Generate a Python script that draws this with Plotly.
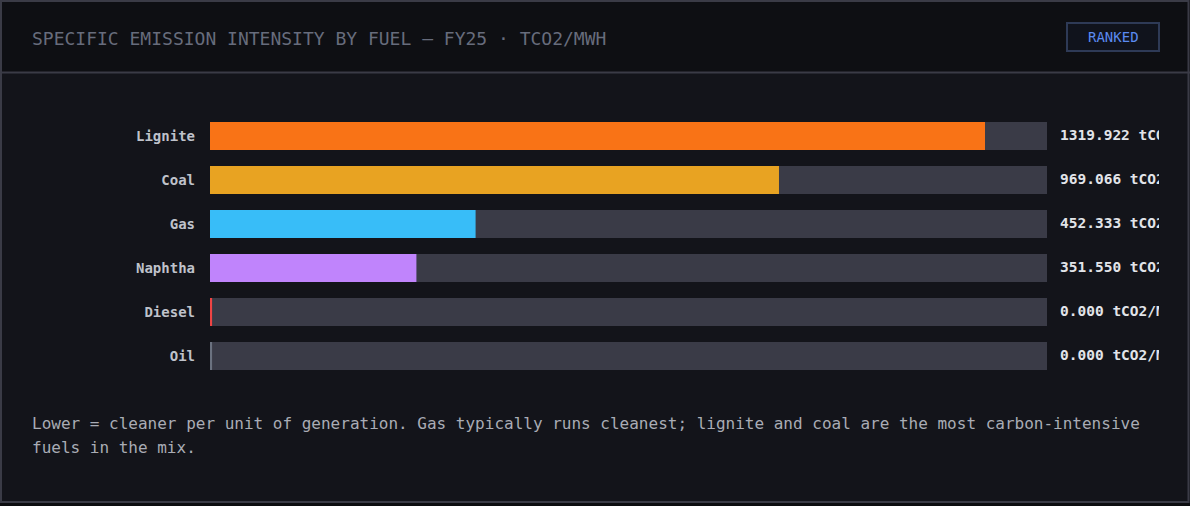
import plotly.graph_objects as go

# data
fuels = ["Lignite", "Coal", "Gas", "Naphtha", "Diesel", "Oil"]
intensity = [1319.922, 969.066, 452.333, 351.550, 0.000, 0.000]
fuel_colors = ["#f97316", "#e8a322", "#38bdf8", "#c084fc", "#ef4444", "#6b7280"]
unit = "tCO2/MWh"

W, H = 1190, 506
xmax = max(intensity) * 1.08
min_bar = xmax * 0.0025  # like a css min-width so empty rows still show a sliver

BODY_BG = "#13141a"
HEAD_BG = "#0e0f13"
BORDER = "#3a3b46"
TRACK = "#3a3b47"
MONO = "DejaVu Sans Mono, Liberation Mono, monospace"


def px(x):
    return x / W


def py(y):
    return 1 - y / H


fig = go.Figure()

# background tracks
fig.add_trace(go.Bar(
    y=fuels, x=[xmax] * len(fuels), orientation="h",
    marker=dict(color=TRACK, line_width=0), width=0.636,
    hoverinfo="skip", showlegend=False,
))

# value bars
fig.add_trace(go.Bar(
    y=fuels, x=[max(v, min_bar) for v in intensity], orientation="h",
    marker=dict(color=fuel_colors, line_width=0), width=0.636,
    customdata=intensity, hovertemplate="%{y}: %{customdata:.3f} " + unit + "<extra></extra>",
    showlegend=False,
))

# value labels, clipped by their own narrow subplot (the card cuts them off)
fig.add_trace(go.Scatter(
    y=fuels, x=[0] * len(fuels), xaxis="x2", yaxis="y",
    mode="text", text=[f"{v:.3f} {unit}" for v in intensity],
    textposition="middle right", cliponaxis=True,
    textfont=dict(family=MONO, size=14.5, color="#e2e4e9", weight="bold"),
    hoverinfo="skip", showlegend=False,
))

fig.update_layout(
    width=W, height=H,
    margin=dict(l=0, r=0, t=0, b=0),
    paper_bgcolor=BODY_BG, plot_bgcolor="rgba(0,0,0,0)",
    barmode="overlay",
    xaxis=dict(domain=[px(210), px(1047)], range=[0, xmax], visible=False, fixedrange=True),
    xaxis2=dict(domain=[px(1060), px(1159)], range=[0, 1], visible=False, anchor="y", fixedrange=True),
    yaxis=dict(
        domain=[py(378), py(114)], autorange="reversed",
        showgrid=False, zeroline=False, showline=False, ticks="",
        ticklabelstandoff=14,
        tickfont=dict(family=MONO, size=14, color="#bfc2ca", weight="bold"),
        fixedrange=True,
    ),
    font=dict(family=MONO),
)

shapes = [
    # header band
    dict(type="rect", xref="paper", yref="paper", x0=0, x1=1, y0=py(72), y1=1,
         fillcolor=HEAD_BG, line_width=0, layer="below"),
    # page strip under the card
    dict(type="rect", xref="paper", yref="paper", x0=0, x1=1, y0=0, y1=py(503),
         fillcolor="#0c0d10", line_width=0, layer="below"),
    # header divider
    dict(type="line", xref="paper", yref="paper", x0=0, x1=1, y0=py(72.5), y1=py(72.5),
         line=dict(color=BORDER, width=2)),
    # card border
    dict(type="rect", xref="paper", yref="paper", x0=px(1), x1=px(1188.5), y0=py(502), y1=py(1),
         line=dict(color=BORDER, width=2), fillcolor="rgba(0,0,0,0)"),
    # badge
    dict(type="rect", xref="paper", yref="paper", x0=px(1067), x1=px(1159), y0=py(51), y1=py(23),
         fillcolor="#10131c", line=dict(color="#2e3a56", width=2)),
]
fig.update_layout(shapes=shapes)

fig.add_annotation(
    x=px(30), y=py(38), xref="paper", yref="paper", xanchor="left", yanchor="middle",
    text="SPECIFIC EMISSION INTENSITY BY FUEL — FY25 · TCO2/MWH", showarrow=False,
    font=dict(family=MONO, size=18, color="#676c7c"),
)
fig.add_annotation(
    x=px(1113), y=py(37), xref="paper", yref="paper", xanchor="center", yanchor="middle",
    text="RANKED", showarrow=False,
    font=dict(family=MONO, size=14, color="#5b8af0"),
)
fig.add_annotation(
    x=px(30), y=py(423), xref="paper", yref="paper", xanchor="left", yanchor="middle",
    text="Lower = cleaner per unit of generation. Gas typically runs cleanest; lignite and coal are the most carbon-intensive",
    showarrow=False, font=dict(family=MONO, size=16, color="#a9acb5"),
)
fig.add_annotation(
    x=px(30), y=py(447), xref="paper", yref="paper", xanchor="left", yanchor="middle",
    text="fuels in the mix.",
    showarrow=False, font=dict(family=MONO, size=16, color="#a9acb5"),
)

fig.write_html(
    "out.html",
    config={"displayModeBar": False},
    post_script="document.body.style.margin='0';",
)
